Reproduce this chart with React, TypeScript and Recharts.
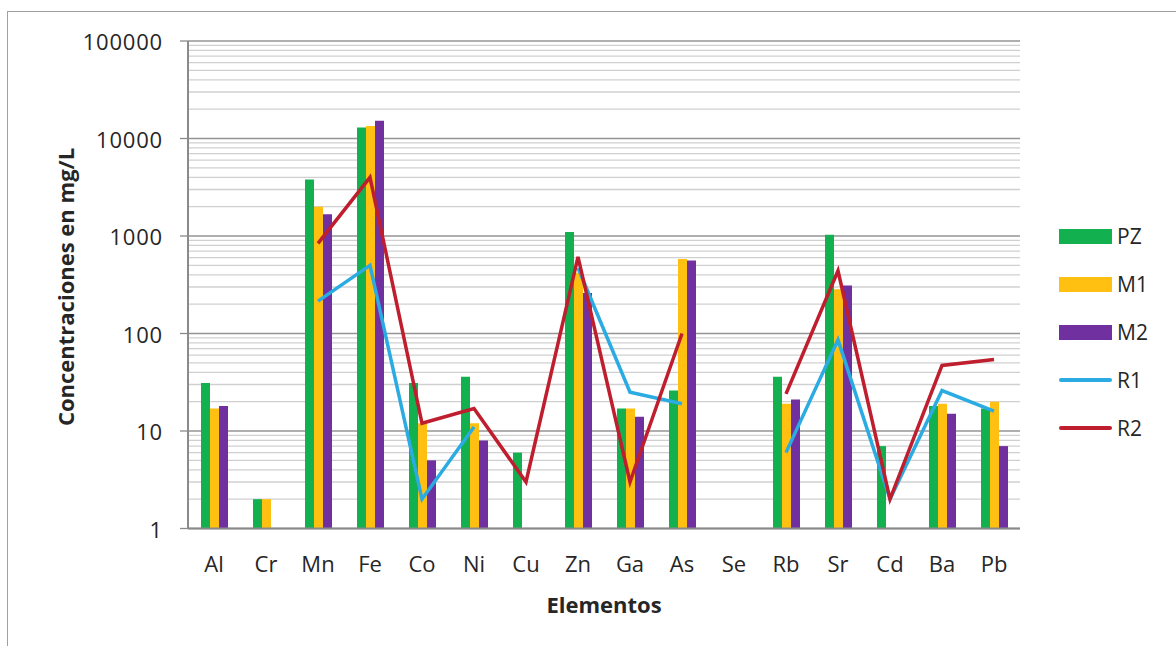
import React from 'react'
import {
  ComposedChart,
  Bar,
  Line,
  XAxis,
  YAxis,
  CartesianGrid,
} from 'recharts'

// Concentraciones por elemento (mg/L), escala logarítmica
const elementos = ['Al', 'Cr', 'Mn', 'Fe', 'Co', 'Ni', 'Cu', 'Zn', 'Ga', 'As', 'Se', 'Rb', 'Sr', 'Cd', 'Ba', 'Pb']
const pz = [31, 2, 3800, 13000, 31, 36, 6, 1100, 17, 26, null, 36, 1030, 7, 18, 17]
const m1 = [17, 2, 2000, 13400, 12, 12, null, 420, 17, 580, null, 19, 285, null, 19, 20]
const m2 = [18, null, 1670, 15200, 5, 8, null, 260, 14, 560, null, 21, 310, null, 15, 7]
const r1 = [null, null, 215, 500, 2, 11, null, 470, 25, 19, null, 6, 86, 2, 26, 16]
const r2 = [null, null, 840, 4000, 12, 17, 3, 610, 3, 100, null, 24, 440, 2, 47, 54]

const yTicks = [1, 10, 100, 1000, 10000, 100000]

const COLORS = {
  PZ: '#13B04F',
  M1: '#FFC012',
  M2: '#7030A0',
  R1: '#2AABE2',
  R2: '#BE1E2D',
}

const FONT = '"Open Sans", sans-serif'

const data = elementos.map((el, i) => ({
  el,
  PZ: pz[i],
  M1: m1[i],
  M2: m2[i],
  R1: r1[i],
  R2: r2[i],
}))

// minor gridlines at 2..9 of each decade
const minorLines: number[] = []
for (let d = 1; d < 100000; d *= 10) {
  for (let k = 2; k <= 9; k++) minorLines.push(d * k)
}

function XTick({ x, y, payload }: any) {
  return (
    <text x={x} y={y + 43} textAnchor="middle" fontSize={22} fill="#262626" fontFamily={FONT}>
      {payload.value}
    </text>
  )
}

function YTick({ x, y, payload }: any) {
  return (
    <text x={x - 17} y={y} textAnchor="end" dominantBaseline="central" fontSize={22} letterSpacing={0.8} fill="#262626" fontFamily={FONT}>
      {payload.value}
    </text>
  )
}

const legendItems: { key: keyof typeof COLORS; kind: 'bar' | 'line' }[] = [
  { key: 'PZ', kind: 'bar' },
  { key: 'M1', kind: 'bar' },
  { key: 'M2', kind: 'bar' },
  { key: 'R1', kind: 'line' },
  { key: 'R2', kind: 'line' },
]

export default function App() {
  return (
    <div style={{ position: 'absolute', left: 0, top: 0, width: 1176, height: 646, background: '#fff', overflow: 'hidden' }}>
      <div
        style={{
          position: 'absolute',
          left: 7,
          top: 11,
          width: 1200,
          height: 700,
          borderLeft: '1px solid #a0a0a0',
          borderTop: '1px solid #a0a0a0',
        }}
      />
      <div style={{ position: 'absolute', left: 0, top: 0 }}>
        <ComposedChart
          width={1176}
          height={646}
          data={data}
          margin={{ top: 41, right: 156, left: 0, bottom: 87.5 }}
          barCategoryGap="25%"
          barGap={0}
        >
          <CartesianGrid vertical={false} horizontalValues={minorLines} stroke="#d0d0d0" strokeWidth={1.3} />
          <CartesianGrid vertical={false} horizontalValues={yTicks} stroke="#959595" strokeWidth={1.3} />
          <XAxis
            dataKey="el"
            tick={<XTick />}
            tickLine={false}
            tickSize={0}
            tickMargin={0}
            height={30}
            axisLine={{ stroke: '#8a8a8a', strokeWidth: 2 }}
            interval={0}
          />
          <YAxis
            scale="log"
            domain={[1, 100000]}
            ticks={yTicks}
            allowDataOverflow
            width={188}
            tickSize={8}
            tickMargin={0}
            tick={<YTick />}
            tickLine={{ stroke: '#8a8a8a', strokeWidth: 1.3 }}
            axisLine={{ stroke: '#8a8a8a', strokeWidth: 2 }}
            interval={0}
          />
          <Bar dataKey="PZ" fill={COLORS.PZ} isAnimationActive={false} />
          <Bar dataKey="M1" fill={COLORS.M1} isAnimationActive={false} />
          <Bar dataKey="M2" fill={COLORS.M2} isAnimationActive={false} />
          <Line
            dataKey="R1"
            type="linear"
            stroke={COLORS.R1}
            strokeWidth={3.5}
            dot={false}
            activeDot={false}
            connectNulls={false}
            isAnimationActive={false}
          />
          <Line
            dataKey="R2"
            type="linear"
            stroke={COLORS.R2}
            strokeWidth={3.5}
            dot={false}
            activeDot={false}
            connectNulls={false}
            isAnimationActive={false}
          />
        </ComposedChart>
      </div>

      {/* axis titles */}
      <div
        style={{
          position: 'absolute',
          left: 65,
          top: 287,
          transform: 'translate(-50%, -50%) rotate(-90deg)',
          whiteSpace: 'nowrap',
          fontFamily: FONT,
          fontWeight: 700,
          fontSize: 22,
          color: '#262626',
        }}
      >
        Concentraciones en mg/L
      </div>
      <div
        style={{
          position: 'absolute',
          left: 604,
          top: 604,
          transform: 'translate(-50%, -50%)',
          whiteSpace: 'nowrap',
          fontFamily: FONT,
          fontWeight: 700,
          fontSize: 22,
          color: '#262626',
        }}
      >
        Elementos
      </div>

      {/* legend */}
      {legendItems.map((item, i) => (
        <div
          key={item.key}
          style={{
            position: 'absolute',
            left: 1059,
            top: 236 + i * 48 - 14,
            height: 28,
            display: 'flex',
            alignItems: 'center',
            fontFamily: FONT,
            fontSize: 21,
            color: '#262626',
          }}
        >
          <div
            style={{
              width: 53,
              height: item.kind === 'bar' ? 15 : 4,
              borderRadius: item.kind === 'bar' ? 0 : 2,
              background: COLORS[item.key],
              marginRight: 5,
            }}
          />
          {item.key}
        </div>
      ))}
    </div>
  )
}
